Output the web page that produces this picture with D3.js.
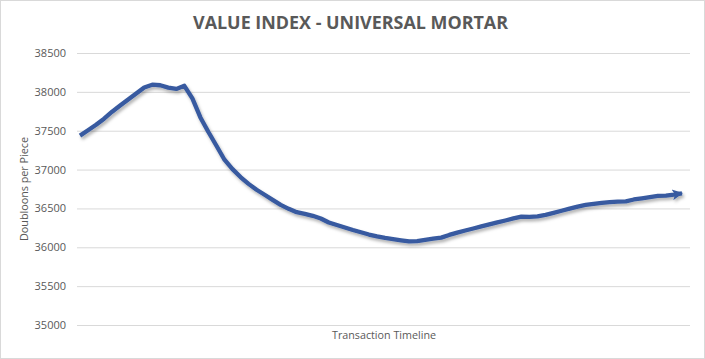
<!DOCTYPE html>
<html>
<head>
<meta charset="utf-8">
<script src="https://cdnjs.cloudflare.com/ajax/libs/d3/7.8.5/d3.min.js"></script>
<style>
  html, body { margin: 0; padding: 0; background: #fff; }
  svg { display: block; }
</style>
</head>
<body>
<svg id="chart" width="705" height="359"></svg>
<script>
const chartTitle = "VALUE INDEX - UNIVERSAL MORTAR";
const yAxisTitle = "Doubloons per Piece";
const xAxisTitle = "Transaction Timeline";
const yTicks = [35000, 35500, 36000, 36500, 37000, 37500, 38000, 38500];
const values = [
  37437, 37506, 37577, 37655, 37745, 37824, 37901, 37978, 38056, 38092,
  38085, 38055, 38038, 38078, 37917, 37671, 37483, 37306, 37127, 37006,
  36904, 36816, 36740, 36676, 36610, 36546, 36495, 36452, 36431, 36405,
  36370, 36319, 36286, 36254, 36222, 36193, 36164, 36140, 36120, 36106,
  36090, 36075, 36078, 36095, 36110, 36124, 36159, 36189, 36216, 36242,
  36268, 36294, 36320, 36345, 36371, 36395, 36391, 36397, 36418, 36443,
  36470, 36497, 36524, 36545, 36559, 36571, 36580, 36588, 36592, 36615,
  36630, 36646, 36661, 36665, 36678, 36695
];
const indices = values.map((d, i) => i);

const svg = d3.select("#chart");
const W = 705, H = 359;
const plot = { left: 77, right: 690, top: 53, bottom: 325 };

svg.append("rect")
  .attr("x", 0.5).attr("y", 0.5)
  .attr("width", W - 1).attr("height", H - 1)
  .attr("fill", "#fff").attr("stroke", "#d9d9d9");

const defs = svg.append("defs");
const f = defs.append("filter").attr("id", "shadow")
  .attr("x", "-5%").attr("y", "-20%").attr("width", "110%").attr("height", "140%");
f.append("feDropShadow").attr("dx", 1.5).attr("dy", 2.5)
  .attr("stdDeviation", 1.4).attr("flood-color", "#000").attr("flood-opacity", 0.3);

defs.append("marker").attr("id", "arrow")
  .attr("viewBox", "0 0 10 10")
  .attr("refX", 9).attr("refY", 5)
  .attr("markerWidth", 2.7).attr("markerHeight", 2.5)
  .attr("markerUnits", "strokeWidth")
  .attr("orient", "auto")
  .append("path").attr("d", "M0,0 L10,5 L0,10 L2.5,5 Z").attr("fill", "#375AA0");

const y = d3.scaleLinear().domain([35000, 38500]).range([plot.bottom, plot.top]);
const x = d3.scaleLinear().domain([0, values.length - 1]).range([80, 682]);

// gridlines
const yAxis = d3.axisLeft(y).tickValues(yTicks).tickSize(-(plot.right - plot.left))
  .tickPadding(11).tickFormat(d3.format("d"));
const gy = svg.append("g").attr("transform", `translate(${plot.left},0)`).call(yAxis);
gy.select(".domain").remove();
gy.selectAll(".tick line").attr("stroke", "#d9d9d9").attr("stroke-width", 1);
gy.selectAll(".tick text")
  .attr("fill", "#595959")
  .style("font-family", "'Open Sans', 'Liberation Sans', sans-serif")
  .style("font-size", "11px");

// title
svg.append("text")
  .attr("x", 350.5).attr("y", 29)
  .attr("text-anchor", "middle")
  .attr("textLength", 315).attr("lengthAdjust", "spacingAndGlyphs")
  .attr("fill", "#595959")
  .style("font-family", "'Open Sans', 'Liberation Sans', sans-serif")
  .style("font-weight", "bold")
  .style("font-size", "18px")
  .text(chartTitle);

// axis titles
svg.append("text")
  .attr("transform", `translate(28,189) rotate(-90)`)
  .attr("text-anchor", "middle")
  .attr("textLength", 104).attr("lengthAdjust", "spacingAndGlyphs")
  .attr("fill", "#595959")
  .style("font-family", "'Open Sans', 'Liberation Sans', sans-serif")
  .style("font-size", "11px")
  .text(yAxisTitle);

svg.append("text")
  .attr("x", 384).attr("y", 339)
  .attr("text-anchor", "middle")
  .attr("textLength", 104).attr("lengthAdjust", "spacingAndGlyphs")
  .attr("fill", "#595959")
  .style("font-family", "'Open Sans', 'Liberation Sans', sans-serif")
  .style("font-size", "11px")
  .text(xAxisTitle);

// line
const line = d3.line().x(i => x(i)).y(i => y(values[i]));
svg.append("path")
  .datum(indices)
  .attr("d", line)
  .attr("fill", "none")
  .attr("stroke", "#375AA0")
  .attr("stroke-width", 4.3)
  .attr("stroke-linejoin", "round")
  .attr("marker-end", "url(#arrow)")
  .attr("filter", "url(#shadow)");
</script>
</body>
</html>
